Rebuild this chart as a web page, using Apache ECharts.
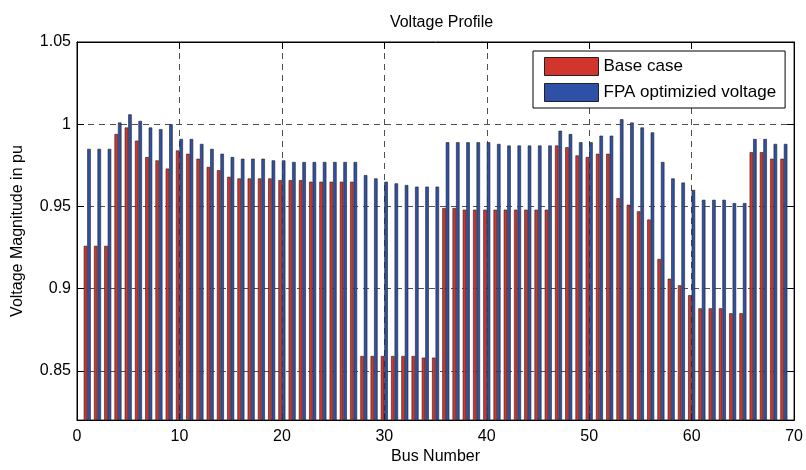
<!DOCTYPE html>
<html>
<head>
<meta charset="utf-8">
<script src="https://cdn.jsdelivr.net/npm/echarts/dist/echarts.min.js"></script>
<style>
html,body{margin:0;padding:0;background:#fff;}
#chart{width:806px;height:470px;}
</style>
</head>
<body>
<div id="chart"></div>
<script>
// Bus numbers 1..69
var buses = [];
for (var b = 1; b <= 69; b++) buses.push(b);

var baseCase = [
  0.926,0.926,0.926,0.994,0.998,0.990,0.980,0.978,0.973,0.984,0.982,0.979,
  0.974,0.972,0.968,0.967,0.967,0.967,0.967,0.966,0.966,0.966,0.965,0.965,0.965,0.965,0.965,
  0.859,0.859,0.859,0.859,0.859,0.859,0.858,0.858,
  0.949,0.949,0.948,0.948,0.948,0.948,0.948,0.948,0.948,0.948,0.948,
  0.987,0.986,0.981,0.980,0.982,0.982,0.955,0.951,0.947,0.942,
  0.918,0.906,0.902,0.896,0.888,0.888,0.888,0.885,0.885,
  0.983,0.983,0.979,0.979
];

var fpaVoltage = [
  0.985,0.985,0.985,1.001,1.006,1.002,0.998,0.997,1.000,0.991,0.991,0.988,
  0.985,0.982,0.980,0.979,0.979,0.979,0.978,0.978,0.977,0.977,0.977,0.977,0.977,0.977,0.977,
  0.969,0.967,0.965,0.964,0.963,0.962,0.962,0.962,
  0.989,0.989,0.989,0.989,0.989,0.988,0.987,0.987,0.987,0.987,0.987,
  0.996,0.994,0.989,0.989,0.993,0.993,1.003,1.001,0.998,0.995,
  0.977,0.967,0.9645,0.960,0.954,0.954,0.954,0.952,0.952,
  0.991,0.991,0.988,0.988
];

var yTicks = [0.85, 0.9, 0.95, 1, 1.05];
var seriesNames = ['Base case', 'FPA optimizied voltage'];

var FONT = '"Liberation Sans", Arial, Helvetica, sans-serif';

function pairs(vals) {
  return buses.map(function (b, i) { return [b, vals[i]]; });
}

var chart = echarts.init(document.getElementById('chart'), null, {renderer: 'canvas'});

var axisLineStyle = {show: true, onZero: false, lineStyle: {color: '#000', width: 1}};
var tickStyle = {show: true, inside: true, length: 7, lineStyle: {color: '#000', width: 1}};
var gridLine = {show: true, lineStyle: {color: '#505050', width: 1, type: [6, 5]}};

var option = {
  animation: false,
  backgroundColor: '#fff',
  title: {
    text: 'Voltage Profile',
    left: 436.5,
    top: 10,
    textAlign: 'center',
    textStyle: {fontFamily: FONT, fontSize: 16, fontWeight: 'normal', color: '#000'}
  },
  legend: {
    orient: 'vertical',
    left: 533,
    top: 51,
    padding: [6, 9, 6, 11],
    itemWidth: 54,
    itemHeight: 18,
    itemGap: 7,
    backgroundColor: '#fff',
    borderColor: '#000',
    borderWidth: 1,
    borderRadius: 0,
    icon: 'rect',
    itemStyle: {borderColor: '#222', borderWidth: 1},
    textStyle: {fontFamily: FONT, fontSize: 17, color: '#000'},
    data: seriesNames
  },
  grid: {
    left: 77, right: 10, top: 42, bottom: 42,
    show: true, borderColor: '#000', borderWidth: 1, backgroundColor: 'transparent'
  },
  xAxis: [
    {
      type: 'value', min: 0, max: 70, interval: 10, position: 'bottom',
      axisLine: axisLineStyle, axisTick: tickStyle,
      axisLabel: {color: '#000', fontFamily: FONT, fontSize: 16, margin: 8},
      splitLine: gridLine,
      name: 'Bus Number', nameLocation: 'middle', nameGap: 26,
      nameTextStyle: {fontFamily: FONT, fontSize: 16, color: '#000'}
    },
    {
      type: 'value', min: 0, max: 70, interval: 10, position: 'top',
      axisLine: axisLineStyle, axisTick: tickStyle,
      axisLabel: {show: false}, splitLine: {show: false}
    }
  ],
  yAxis: [
    {
      type: 'value', min: 0.82, max: 1.05, position: 'left',
      axisLine: axisLineStyle,
      axisTick: {show: true, inside: true, length: 7, lineStyle: {color: '#000'}, customValues: yTicks},
      axisLabel: {color: '#000', fontFamily: FONT, fontSize: 16, margin: 6, customValues: yTicks,
        formatter: function (v) { return String(+v.toFixed(2)); }},
      splitLine: gridLine,
      name: 'Voltage Magnitude in pu', nameLocation: 'middle', nameGap: 51, nameRotate: 90,
      nameTextStyle: {fontFamily: FONT, fontSize: 16, color: '#000'}
    },
    {
      type: 'value', min: 0.82, max: 1.05, position: 'right',
      axisLine: axisLineStyle,
      axisTick: {show: true, inside: true, length: 7, lineStyle: {color: '#000'}, customValues: yTicks},
      axisLabel: {show: false, customValues: yTicks}, splitLine: {show: false}
    }
  ],
  series: [
    {
      name: seriesNames[0], type: 'bar', xAxisIndex: 0, yAxisIndex: 0,
      barWidth: 3.5, barGap: '0%', clip: true,
      itemStyle: {color: '#d2352c', borderColor: '#222', borderWidth: 0.6},
      data: pairs(baseCase)
    },
    {
      name: seriesNames[1], type: 'bar', xAxisIndex: 0, yAxisIndex: 0,
      barWidth: 3.5, barGap: '0%', clip: true,
      itemStyle: {color: '#2e50a6', borderColor: '#222', borderWidth: 0.6},
      data: pairs(fpaVoltage)
    }
  ]
};

chart.setOption(option);
</script>
</body>
</html>
